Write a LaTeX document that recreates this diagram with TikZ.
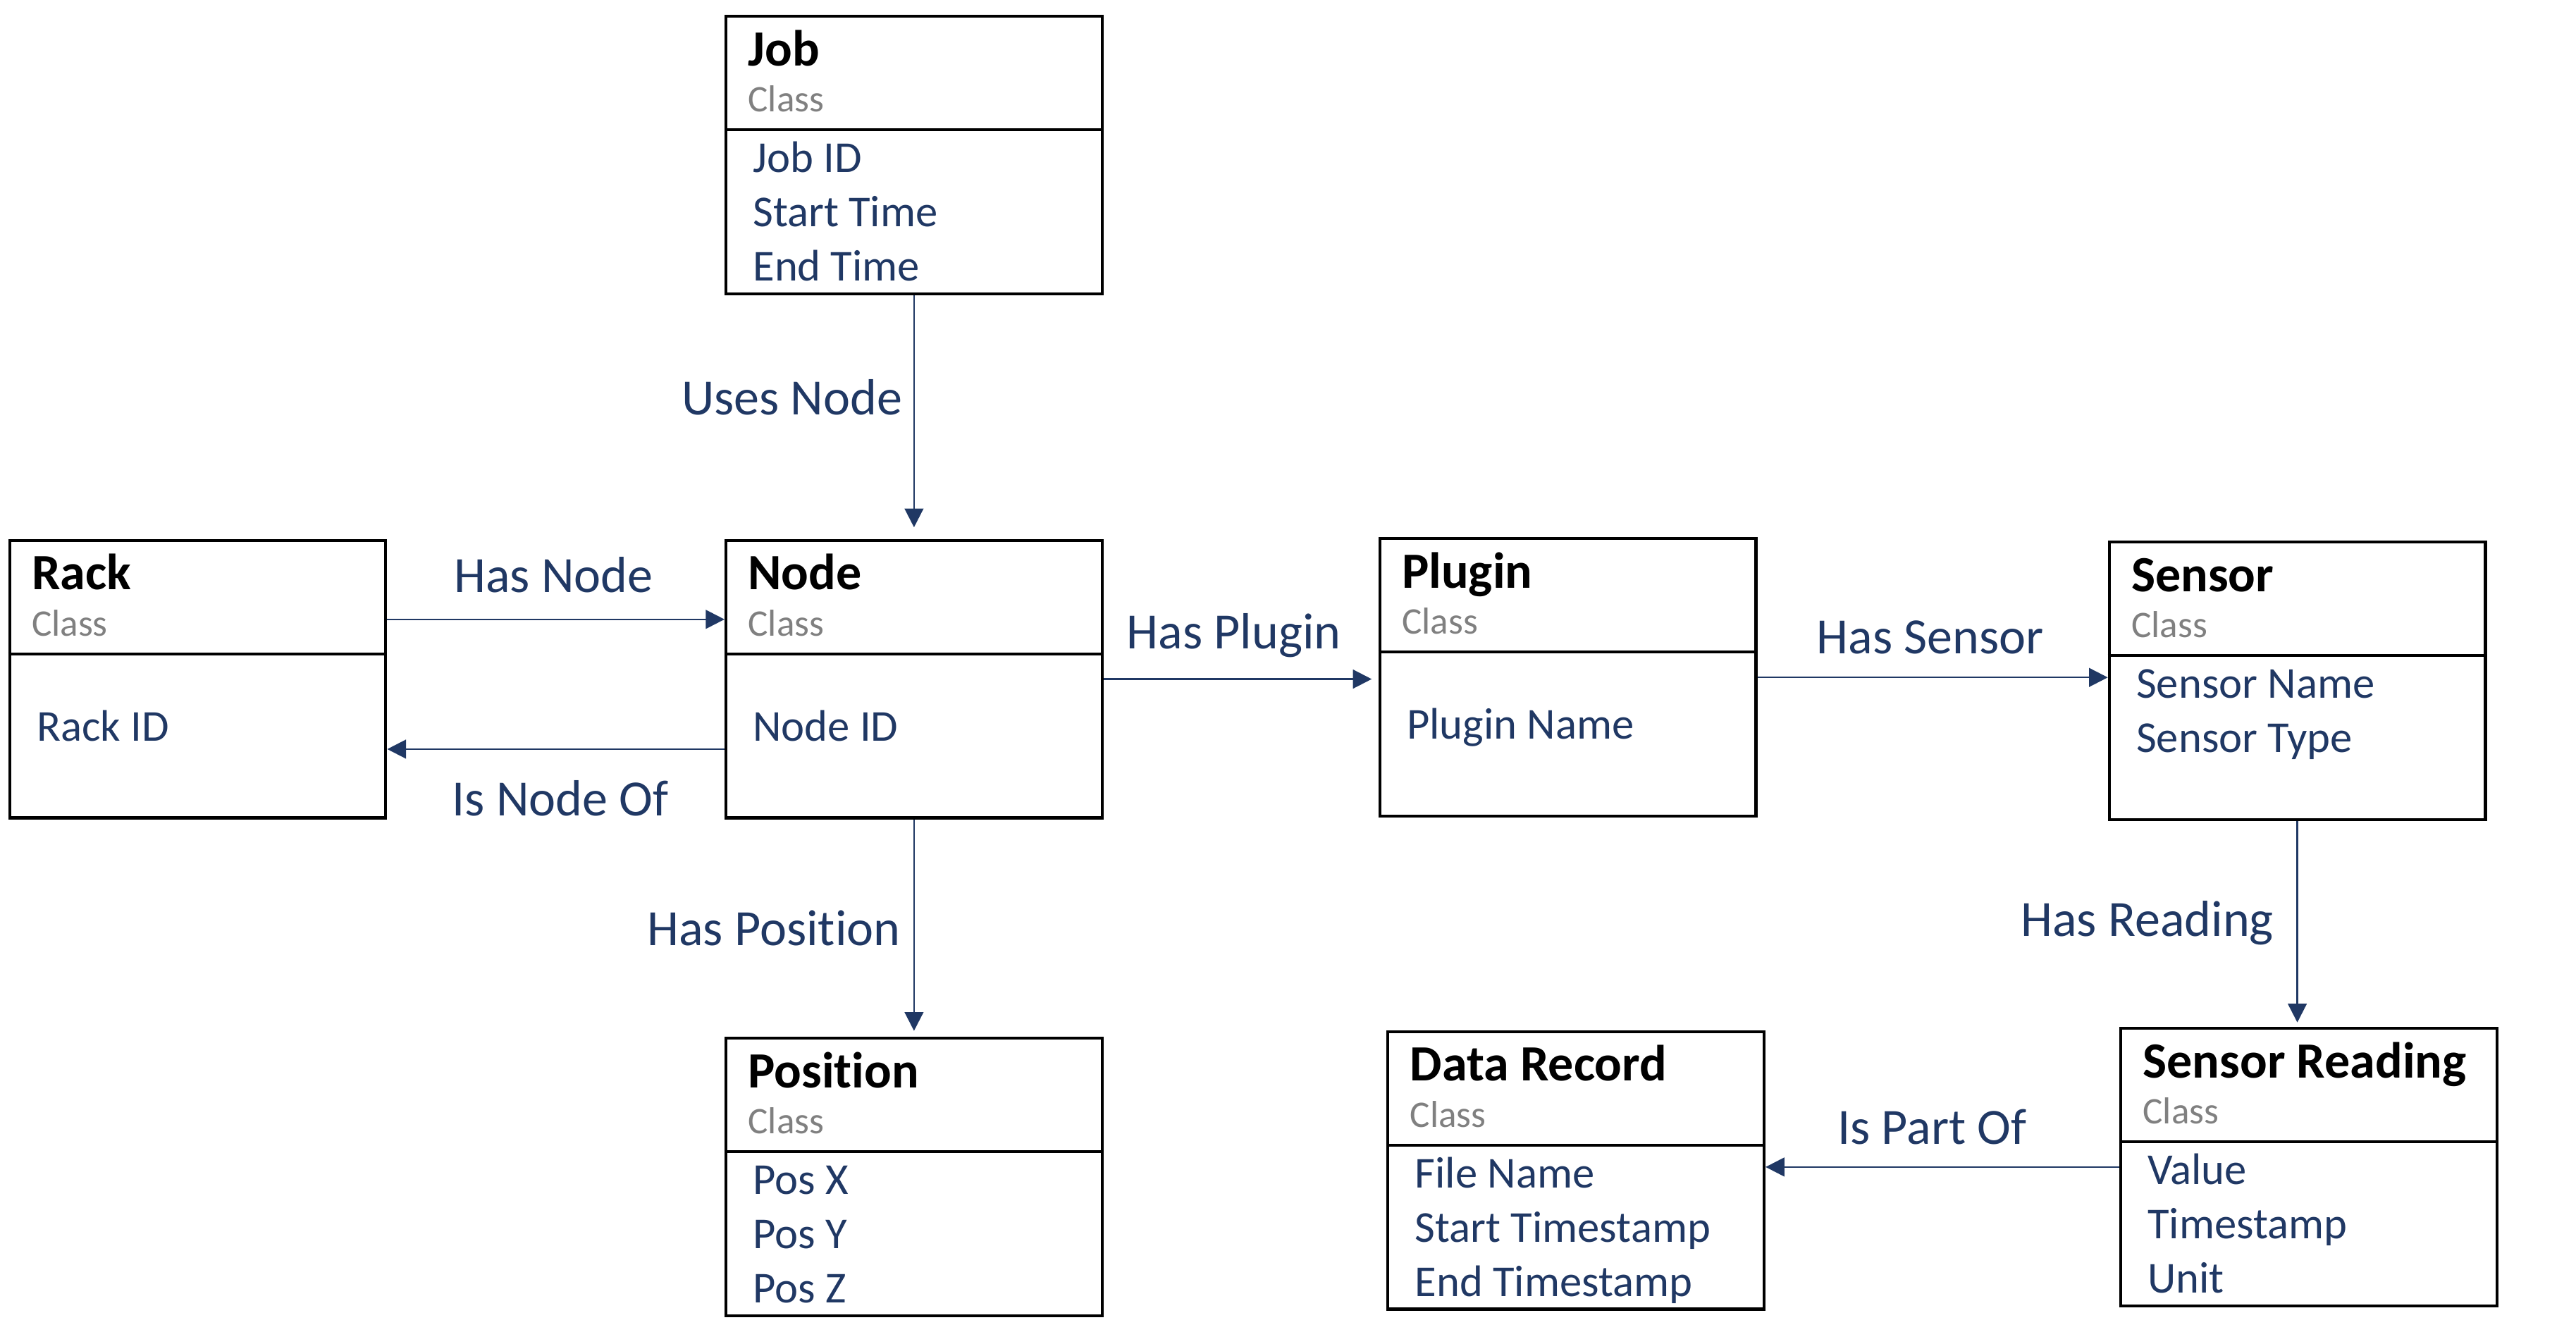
\documentclass[tikz,border=0pt]{standalone}
\usepackage{fontspec}
\setmainfont{Carlito}[Ligatures={NoCommon}]
\usetikzlibrary{arrows.meta}
\definecolor{navy}{HTML}{203864}
\definecolor{classgray}{HTML}{808080}

\begin{document}
\begin{tikzpicture}[x=0.02cm, y=-0.02cm,
	classbox/.style={draw, line width=1pt, anchor=north west, minimum width=4.58cm, minimum height=3.38cm, inner sep=0pt},
	clsname/.style={anchor=base west, inner sep=0pt, font=\fontsize{17.6}{20}\selectfont\bfseries},
	kind/.style={anchor=base west, inner sep=0pt, text=classgray, font=\fontsize{13}{15}\selectfont},
	attr/.style={anchor=base west, inner sep=0pt, text=navy, font=\fontsize{15.3}{18.7}\selectfont},
	rel/.style={inner sep=0pt, text=navy, font=\fontsize{17.6}{20}\selectfont},
	link/.style={draw=navy, line width=0.6pt, -{Triangle[length=6.5pt, width=6.5pt]}}]
	\useasboundingbox (0,0) rectangle (1568,818);

	\foreach \n/\x/\y/\t/\f/\as in {
		job/441/9/Job/96/{Job ID,Start Time,End Time},
		rack/5/328/Rack/123/{Rack ID},
		host/441/328/Node/123/{Node ID},
		plugin/839/327/Plugin/123/{Plugin Name},
		sensor/1283/329/Sensor/96/{Sensor Name,Sensor Type},
		position/441/631/Position/96/{Pos X,Pos Y,Pos Z},
		datarec/844/627/Data Record/96/{File Name,Start Timestamp,End Timestamp},
		reading/1290/625/Sensor Reading/96/{Value,Timestamp,Unit}} {
		\node[classbox] (\n) at (\x,\y) {};
		\draw[line width=1pt] (\n.north west) ++(0,70) -- ++(229,0);
		\node[clsname] (\n-name) at ([shift={(14,31)}]\n.north west) {\t};
		\node[kind] (\n-kind) at ([shift={(14,59)}]\n.north west) {Class};
		\foreach \a [count=\i] in \as
			\node[attr] (\n-a\i) at ([shift={(17,{\f+33*(\i-1)})}]\n.north west) {\a};
	}

	% relations
	\draw[link, shorten >=4pt] (job.south) -- (host.north);
	\draw[link] ([shift={(0,49)}]rack.north east) -- ([shift={(0,49)}]host.north west);
	\draw[link] ([shift={(0,128)}]host.north west) -- ([shift={(0,128)}]rack.north east);
	\draw[link, shorten >=2.3pt] (host.east) -- (plugin.west |- host.east);
	\draw[link] (plugin.east) -- (plugin.east -| sensor.west);
	\draw[link, shorten >=1.5pt] (sensor.south) -- (sensor.south |- reading.north);
	\draw[link, shorten >=2pt] (host.south) -- (position.north);
	\draw[link] (reading.west) -- (reading.west -| datarec.east);

	\node[rel] (usesnode) at (482,242) {Uses Node};
	\node[rel] (hasnode) at (337,350) {Has Node};
	\node[rel] (isnodeof) at (341,486) {Is Node Of};
	\node[rel] (hasplugin) at (751,387) {Has Plugin};
	\node[rel] (hassensor) at (1175,388) {Has Sensor};
	\node[rel] (hasreading) at (1307,562) {Has Reading};
	\node[rel] (hasposition) at (471,565) {Has Position};
	\node[rel] (ispartof) at (1176,686) {Is Part Of};
\end{tikzpicture}
\end{document}
